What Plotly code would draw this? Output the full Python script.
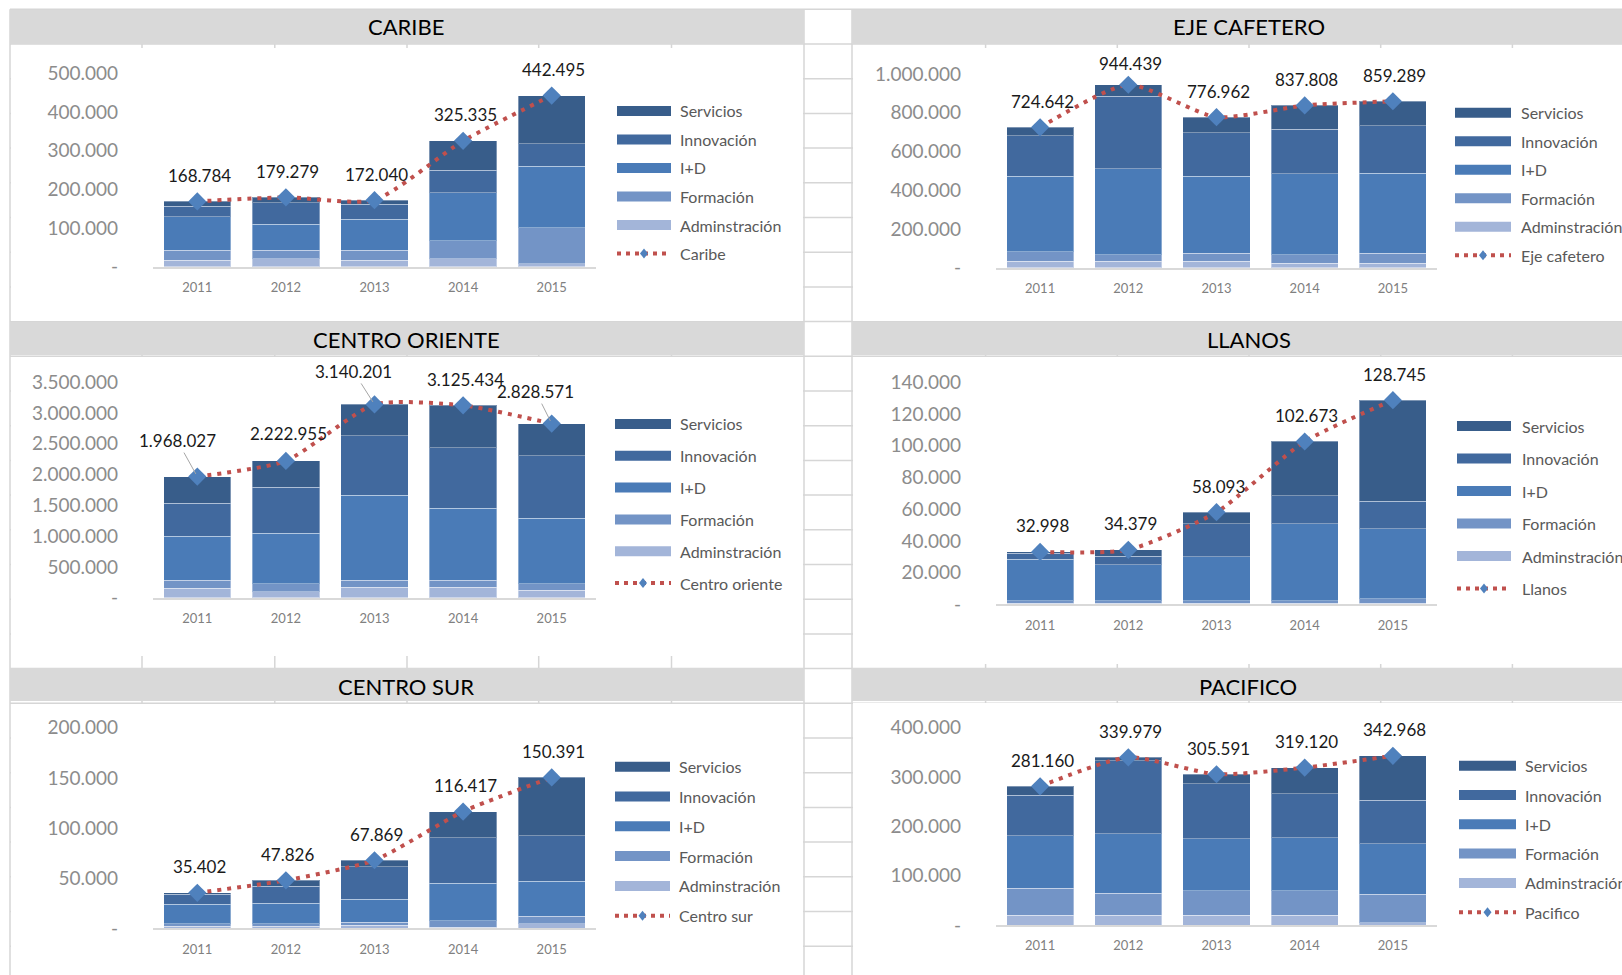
import plotly.graph_objects as go

W, H = 1622, 975

years = ["2011", "2012", "2013", "2014", "2015"]
components = ["Adminstración", "Formación", "I+D", "Innovación", "Servicios"]

# ---------------- data ----------------
caribe_adminstracion = [17000, 20600, 16300, 20600, 7700]
caribe_formacion = [25000, 21500, 25800, 46400, 93600]
caribe_id = [86700, 67800, 80700, 123600, 158000]
caribe_innovacion = [27500, 55000, 38600, 59200, 59200]
caribe_servicios = [12584, 14379, 10640, 75535, 123995]
caribe_total = [168784, 179279, 172040, 325335, 442495]

eje_adminstracion = [34000, 34000, 34000, 23800, 23800]
eje_formacion = [49300, 32300, 40800, 42500, 51000]
eje_id = [387800, 445600, 397000, 420000, 413000]
eje_innovacion = [209000, 374000, 224500, 229600, 245000]
eje_servicios = [44542, 58539, 80662, 121908, 126489]
eje_total = [724642, 944439, 776962, 837808, 859289]

co_adminstracion = [150500, 96800, 172000, 172000, 118000]
co_formacion = [129000, 129000, 107500, 107500, 107500]
co_id = [720000, 822600, 1387000, 1172000, 1064500]
co_innovacion = [532000, 747000, 962000, 984000, 1016000]
co_servicios = [436527, 427555, 511701, 689934, 522571]
co_total = [1968027, 2222955, 3140201, 3125434, 2828571]

llanos_adminstracion = [600, 600, 600, 600, 800]
llanos_formacion = [1500, 1500, 1500, 1500, 2600]
llanos_id = [26300, 22900, 27900, 48700, 44300]
llanos_innovacion = [3900, 5300, 20800, 17600, 17200]
llanos_servicios = [698, 4079, 7293, 34273, 63845]
llanos_total = [32998, 34379, 58093, 102673, 128745]

cs_adminstracion = [2000, 2000, 3000, 1300, 4600]
cs_formacion = [2300, 2300, 3000, 6300, 7600]
cs_id = [19700, 20700, 23000, 37200, 34500]
cs_innovacion = [9900, 16800, 32600, 45400, 45400]
cs_servicios = [1502, 6026, 6269, 26217, 58291]
cs_total = [35402, 47826, 67869, 116417, 150391]

pac_adminstracion = [19300, 19300, 19300, 19300, 4700]
pac_formacion = [55300, 45300, 50000, 50000, 58000]
pac_id = [106000, 120000, 105300, 107300, 102000]
pac_innovacion = [82000, 148000, 111300, 90000, 88000]
pac_servicios = [18560, 7379, 19691, 52520, 90268]
pac_total = [281160, 339979, 305591, 319120, 342968]

# ---------------- styles ----------------
FONT = "Lato, 'Open Sans', sans-serif"
COLORS = {
    "Servicios": "#385D8A",
    "Innovación": "#41699E",
    "I+D": "#4A7BB7",
    "Formación": "#7394C6",
    "Adminstración": "#A3B5D9",
}
LINE_RED = "#C0504D"
MARK_BLUE = "#4F81BD"
GRID = "#D6D6D6"


def px(x):
    return x / W


def py(y):
    return 1 - y / H


panels = [
    dict(title="CARIBE", line="Caribe", series=[caribe_adminstracion, caribe_formacion, caribe_id, caribe_innovacion, caribe_servicios],
         total=caribe_total, ymax=500000, dtick=100000, zero=266.7, top=73.3, xd=(153, 596), tx=406.5, ty=27,
         leg=dict(s0=617, s1=671, t=678, y0=111, dy=28.5)),
    dict(title="EJE CAFETERO", line="Eje cafetero", series=[eje_adminstracion, eje_formacion, eje_id, eje_innovacion, eje_servicios],
         total=eje_total, ymax=1000000, dtick=200000, zero=267.7, top=74, xd=(996, 1437), tx=1249, ty=27,
         leg=dict(s0=1455, s1=1511, t=1519, y0=112.7, dy=28.5)),
    dict(title="CENTRO ORIENTE", line="Centro oriente", series=[co_adminstracion, co_formacion, co_id, co_innovacion, co_servicios],
         total=co_total, ymax=3500000, dtick=500000, zero=597.7, top=382.3, xd=(153, 596), tx=406.5, ty=339.5,
         leg=dict(s0=615, s1=671, t=678, y0=424, dy=31.8)),
    dict(title="LLANOS", line="Llanos", series=[llanos_adminstracion, llanos_formacion, llanos_id, llanos_innovacion, llanos_servicios],
         total=llanos_total, ymax=140000, dtick=20000, zero=604.3, top=382.3, xd=(996, 1437), tx=1249, ty=339.5,
         leg=dict(s0=1457, s1=1511, t=1520, y0=426, dy=32.5)),
    dict(title="CENTRO SUR", line="Centro sur", series=[cs_adminstracion, cs_formacion, cs_id, cs_innovacion, cs_servicios],
         total=cs_total, ymax=200000, dtick=50000, zero=928.3, top=727.7, xd=(153, 596), tx=406.5, ty=686.5,
         leg=dict(s0=615, s1=670, t=677, y0=766.7, dy=29.8)),
    dict(title="PACIFICO", line="Pacifico", series=[pac_adminstracion, pac_formacion, pac_id, pac_innovacion, pac_servicios],
         total=pac_total, ymax=400000, dtick=100000, zero=925, top=727.7, xd=(996, 1437), tx=1248, ty=686.5,
         leg=dict(s0=1459, s1=1516, t=1523, y0=765.7, dy=29.3)),
]

# special label placements (panel index, point index) -> dict
label_special = {
    (2, 0): dict(arrow=True, ax=-20, ay=-36),
    (2, 1): dict(xshift=3, yshift=27),
    (2, 2): dict(arrow=True, ax=-21, ay=-33),
    (2, 4): dict(arrow=True, ax=-16, ay=-32),
    (1, 1): dict(yshift=21),
}


def fmt(v):
    return "-" if v == 0 else f"{v:,}".replace(",", ".")


fig = go.Figure()
shapes = []
annotations = []

# ---- spreadsheet background grid ----
for k in range(29):
    y = 9.3 + 34.7 * k
    shapes.append(dict(type="line", xref="paper", yref="paper", x0=px(10), x1=1, y0=py(y), y1=py(y),
                       line=dict(color=GRID, width=1.5), layer="below"))
for x in [10, 142, 274.8, 407, 538.7, 671.5, 804, 852, 985.6, 1117.3, 1249, 1380.7, 1512.4]:
    shapes.append(dict(type="line", xref="paper", yref="paper", x0=px(x), x1=px(x), y0=0, y1=py(9.3),
                       line=dict(color=GRID, width=1.5), layer="below"))

# ---- chart areas (white) ----
chart_rects = [(11, 48, 803, 321), (853, 48, 1622, 321), (11, 357, 803, 656), (853, 357, 1622, 664),
               (11, 704, 803, 975), (853, 703, 1622, 975)]
for x0, y0, x1, y1 in chart_rects:
    shapes.append(dict(type="rect", xref="paper", yref="paper", x0=px(x0), x1=px(x1), y0=py(y1), y1=py(y0),
                       fillcolor="white", line=dict(width=0), layer="below"))

# ---- title bars ----
bars = [(10, 10, 804, 44), (852, 10, 1622, 44), (10, 322, 804, 355), (852, 322, 1622, 355),
        (10, 668, 804, 701), (852, 668, 1622, 701)]
for x0, y0, x1, y1 in bars:
    shapes.append(dict(type="rect", xref="paper", yref="paper", x0=px(x0), x1=px(x1), y0=py(y1), y1=py(y0),
                       fillcolor="#D9D9D9", line=dict(width=0), layer="below"))

layout_axes = {}
for i, p in enumerate(panels):
    n = i + 1
    xa = "x" if n == 1 else f"x{n}"
    ya = "y" if n == 1 else f"y{n}"
    for comp, vals in zip(components, p["series"]):
        fig.add_trace(go.Bar(x=years, y=vals, name=comp, xaxis=xa, yaxis=ya, showlegend=False,
                             marker=dict(color=COLORS[comp], line=dict(color="rgba(255,255,255,0.35)", width=1))))
    fig.add_trace(go.Scatter(x=years, y=p["total"], name=p["line"], xaxis=xa, yaxis=ya, showlegend=False,
                             mode="lines+markers",
                             line=dict(color=LINE_RED, width=4, dash="4px,6px", shape="spline", smoothing=0.6),
                             marker=dict(symbol="diamond", size=14, color=MARK_BLUE)))
    tickvals = list(range(0, p["ymax"] + 1, p["dtick"]))
    layout_axes[f"xaxis{'' if n == 1 else n}"] = dict(
        domain=[px(p["xd"][0]), px(p["xd"][1])], anchor=ya, type="category",
        categoryorder="array", categoryarray=years, range=[-0.5, len(years) - 0.5],
        showgrid=False, zeroline=False, showline=True, linecolor="#D9D9D9", linewidth=1.5,
        ticks="", tickfont=dict(family=FONT, size=13, color="#808080"), ticklabelstandoff=8,
        fixedrange=True, automargin=False)
    layout_axes[f"yaxis{'' if n == 1 else n}"] = dict(
        domain=[py(p["zero"]), py(p["top"])], anchor=xa, range=[0, p["ymax"]],
        tickvals=tickvals, ticktext=[fmt(v) for v in tickvals],
        showgrid=False, zeroline=False, showline=False, ticks="",
        tickfont=dict(family=FONT, size=19, color="#8C8C8C"), ticklabelstandoff=34,
        fixedrange=True, automargin=False)

    # title
    annotations.append(dict(xref="paper", yref="paper", x=px(p["tx"]), y=py(p["ty"]), text=p["title"],
                            showarrow=False, xanchor="center", yanchor="middle",
                            font=dict(family=FONT, size=22, color="#000000")))
    # data labels (x given as category index)
    for j, tot in enumerate(p["total"]):
        sp = label_special.get((i, j), {})
        a = dict(xref=xa, yref=ya, x=j, y=tot, text=fmt(tot),
                 font=dict(family=FONT, size=17, color="#1A1A1A"))
        if sp.get("arrow"):
            a.update(showarrow=True, ax=sp["ax"], ay=sp["ay"], arrowhead=0, arrowwidth=1,
                     arrowcolor="#A6A6A6", standoff=3)
        else:
            a.update(showarrow=False, xshift=sp.get("xshift", 2), yshift=sp.get("yshift", 26),
                     yanchor="middle")
        annotations.append(a)

    # manual legend
    lg = p["leg"]
    order = ["Servicios", "Innovación", "I+D", "Formación", "Adminstración"]
    for k, comp in enumerate(order):
        yc = lg["y0"] + lg["dy"] * k
        shapes.append(dict(type="rect", xref="paper", yref="paper", x0=px(lg["s0"]), x1=px(lg["s1"]),
                           y0=py(yc + 5), y1=py(yc - 5), fillcolor=COLORS[comp], line=dict(width=0)))
        annotations.append(dict(xref="paper", yref="paper", x=px(lg["t"]), y=py(yc), text=comp,
                                showarrow=False, xanchor="left", yanchor="middle",
                                font=dict(family=FONT, size=16, color="#595959")))
    yc = lg["y0"] + lg["dy"] * 5
    shapes.append(dict(type="line", xref="paper", yref="paper", x0=px(lg["s0"]), x1=px(lg["s1"]),
                       y0=py(yc), y1=py(yc), line=dict(color=LINE_RED, width=4, dash="4px,5px")))
    cx = (lg["s0"] + lg["s1"]) / 2
    shapes.append(dict(type="path", xref="paper", yref="paper",
                       path=f"M {px(cx)},{py(yc - 5)} L {px(cx + 4)},{py(yc)} L {px(cx)},{py(yc + 5)} L {px(cx - 4)},{py(yc)} Z",
                       fillcolor=MARK_BLUE, line=dict(width=0)))
    annotations.append(dict(xref="paper", yref="paper", x=px(lg["t"]), y=py(yc), text=p["line"],
                            showarrow=False, xanchor="left", yanchor="middle",
                            font=dict(family=FONT, size=16, color="#595959")))

fig.update_layout(
    width=W, height=H, margin=dict(l=0, r=0, t=0, b=0, autoexpand=False),
    paper_bgcolor="white", plot_bgcolor="rgba(0,0,0,0)",
    barmode="stack", bargap=0.24, showlegend=False,
    shapes=shapes, annotations=annotations,
    font=dict(family=FONT),
    **layout_axes,
)

fig.write_html("out.html", config={"displayModeBar": False},
               post_script="document.body.style.margin='0';document.body.style.overflow='hidden';")
